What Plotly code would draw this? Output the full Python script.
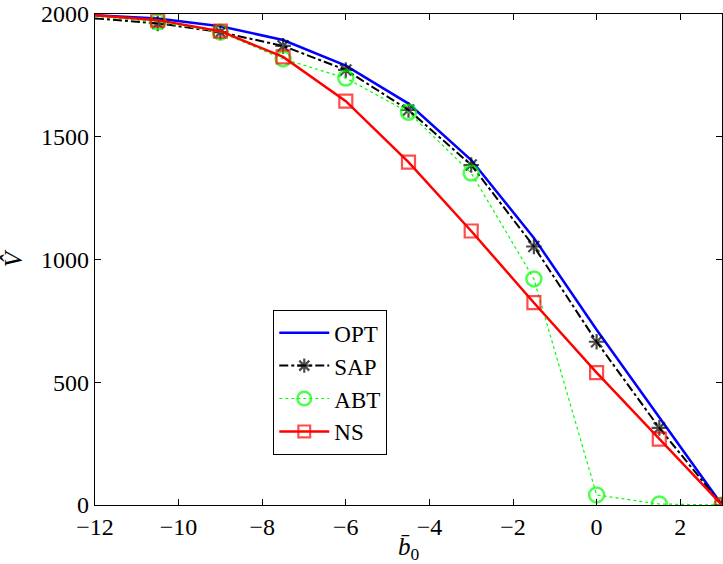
import plotly.graph_objects as go

b0 = [-12, -10.5, -9, -7.5, -6, -4.5, -3, -1.5, 0, 1.5, 3]
opt = [1995, 1982, 1950, 1894, 1790, 1635, 1405, 1088, 714, 356, 0]
sap = [1982, 1962, 1926, 1870, 1772, 1609, 1385, 1053, 665, 314, 0]
abt = [1990, 1968, 1926, 1817, 1739, 1600, 1352, 921, 41, 4, 0]
ns = [1995, 1975, 1930, 1825, 1645, 1397, 1116, 824, 539, 268, 0]
xticks = [-12, -10, -8, -6, -4, -2, 0, 2]
xticklabels = ["\u221212", "\u221210", "\u22128", "\u22126", "\u22124", "\u22122", "0", "2"]
yticks = [0, 500, 1000, 1500, 2000]

FONT = "Liberation Serif"
msz = lambda s: [0] + [s] * (len(b0) - 1)

fig = go.Figure()
fig.add_trace(go.Scatter(x=b0, y=opt, name="OPT", mode="lines",
                         line=dict(color="#0000ff", width=2.5)))
fig.add_trace(go.Scatter(x=b0, y=sap, name="SAP", mode="lines+markers",
                         line=dict(color="black", width=2, dash="dashdot"),
                         marker=dict(symbol="asterisk-open", size=msz(13),
                                     line=dict(color="black", width=2.2), color="black")))
fig.add_trace(go.Scatter(x=b0, y=abt, name="ABT", mode="lines+markers",
                         line=dict(color="#00ff00", width=1.2, dash="dot"),
                         marker=dict(symbol="circle-open", size=msz(15),
                                     line=dict(color="#00ff00", width=2.5), color="#00ff00")))
fig.add_trace(go.Scatter(x=b0, y=ns, name="NS", mode="lines+markers",
                         line=dict(color="#ff0000", width=2.5),
                         marker=dict(symbol="square-open", size=msz(13),
                                     line=dict(color="#ff0000", width=2.2), color="#ff0000")))

fig.update_layout(
    template="none",
    width=723, height=564,
    margin=dict(l=95, r=1, t=14, b=59, pad=0),
    paper_bgcolor="white", plot_bgcolor="white",
    font=dict(family=FONT, size=24, color="black"),
    legend=dict(x=0.284, y=0.397, xanchor="left", yanchor="top",
                bgcolor="white", bordercolor="black", borderwidth=1.2,
                font=dict(family=FONT, size=23), itemwidth=50, tracegroupgap=6),
    showlegend=True,
)
fig.update_xaxes(range=[-12, 3], tickmode="array", tickvals=xticks, ticktext=xticklabels,
                 showgrid=False, zeroline=False, showline=True, linecolor="black",
                 linewidth=1.2, mirror="ticks", ticks="inside", ticklen=6, tickcolor="black",
                 tickfont_family=FONT, tickfont_size=24, tickfont_color="black",
                 title_text="<i>b\u0304</i><sub>0</sub>", title_standoff=0,
                 title_font_family=FONT, title_font_size=25)
fig.update_yaxes(range=[0, 2000], tickmode="array", tickvals=yticks,
                 showgrid=False, zeroline=False, showline=True, linecolor="black",
                 linewidth=1.2, mirror="ticks", ticks="inside", ticklen=6, tickcolor="black",
                 tickfont_family=FONT, tickfont_size=24, tickfont_color="black",
                 title_text="<i>V\u0302</i>", title_standoff=12,
                 title_font_family=FONT, title_font_size=25)

fig.write_html("out.html")
